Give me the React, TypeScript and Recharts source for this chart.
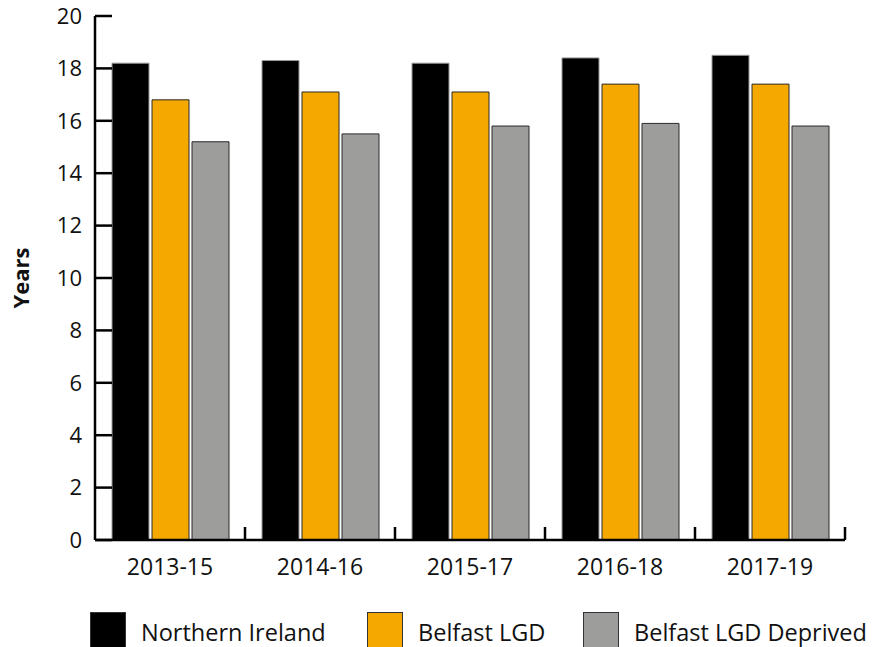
import React from 'react';
import { BarChart, Bar, XAxis, YAxis } from 'recharts';

const categories = ['2013-15', '2014-16', '2015-17', '2016-18', '2017-19'];
const northernIreland = [18.2, 18.3, 18.2, 18.4, 18.5];
const belfastLGD = [16.8, 17.1, 17.1, 17.4, 17.4];
const belfastDeprived = [15.2, 15.5, 15.8, 15.9, 15.8];
const yTicks = [0, 2, 4, 6, 8, 10, 12, 14, 16, 18, 20];

const seriesNames = ['Northern Ireland', 'Belfast LGD', 'Belfast LGD Deprived'];
const seriesColors = ['#000000', '#F5A800', '#9D9D9C'];
const seriesStrokes = ['#9a9a9a', '#2a2a2a', '#2a2a2a'];

const data = categories.map((c, i) => ({
  name: c,
  ni: northernIreland[i],
  lgd: belfastLGD[i],
  dep: belfastDeprived[i],
}));

const FONT = '"Open Sans", "Noto Sans", sans-serif';
const LEGEND_LEFTS = [90, 367, 583];

const XTick = (props: any) => {
  const { x, y, payload } = props;
  const off = payload && typeof payload.offset === 'number' ? payload.offset : 0;
  const axisY = y - 26;
  return (
    <g>
      <line x1={x + off} x2={x + off} y1={axisY} y2={axisY - 13} stroke="#000" strokeWidth={2.5} />
      <text x={x} y={y} textAnchor="middle" dominantBaseline="central" fontSize={23} fill="#111" fontFamily={FONT}>
        {payload.value}
      </text>
    </g>
  );
};

const YLabel = (props: any) => {
  const vb = props.viewBox || {};
  const cy = (vb.y || 0) + (vb.height || 0) / 2;
  return (
    <text
      x={20}
      y={cy}
      transform={`rotate(-90, 20, ${cy})`}
      textAnchor="middle"
      dominantBaseline="central"
      fontSize={22}
      fontWeight="bold"
      fill="#111"
      fontFamily={FONT}
    >
      Years
    </text>
  );
};

export default function App() {
  const keys = ['ni', 'lgd', 'dep'];
  return (
    <div style={{ position: 'absolute', left: 0, top: 0, width: 872, height: 647, background: '#fff', overflow: 'hidden' }}>
      <BarChart
        width={872}
        height={600}
        data={data}
        margin={{ top: 16, right: 27, left: 35, bottom: 20 }}
        barSize={37}
        barGap={3}
      >
        <XAxis
          dataKey="name"
          height={40}
          axisLine={{ stroke: '#000', strokeWidth: 2.5 }}
          tickLine={false}
          tick={<XTick />}
          tickMargin={20}
          interval={0}
        />
        <YAxis
          width={60}
          domain={[0, 20]}
          ticks={yTicks}
          interval={0}
          axisLine={{ stroke: '#000', strokeWidth: 2.5 }}
          tickLine={{ stroke: '#000', strokeWidth: 2.5 }}
          tickSize={-17}
          tickMargin={30}
          tick={{ fontSize: 22, fill: '#111', fontFamily: FONT }}
          label={<YLabel />}
        />
        {keys.map((k, i) => (
          <Bar
            key={k}
            dataKey={k}
            name={seriesNames[i]}
            fill={seriesColors[i]}
            stroke={seriesStrokes[i]}
            strokeWidth={1}
            isAnimationActive={false}
          />
        ))}
      </BarChart>
      {seriesNames.map((n, i) => (
        <div
          key={n}
          style={{
            position: 'absolute',
            left: LEGEND_LEFTS[i],
            top: 612,
            display: 'flex',
            alignItems: 'flex-start',
            fontFamily: FONT,
            fontSize: 23.5,
            lineHeight: '28px',
            color: '#111',
            whiteSpace: 'nowrap',
          }}
        >
          <div
            style={{
              width: 34,
              height: 34,
              background: seriesColors[i],
              border: '1px solid #333',
              marginRight: 15,
            }}
          />
          <span style={{ marginTop: 6 }}>{n}</span>
        </div>
      ))}
    </div>
  );
}
